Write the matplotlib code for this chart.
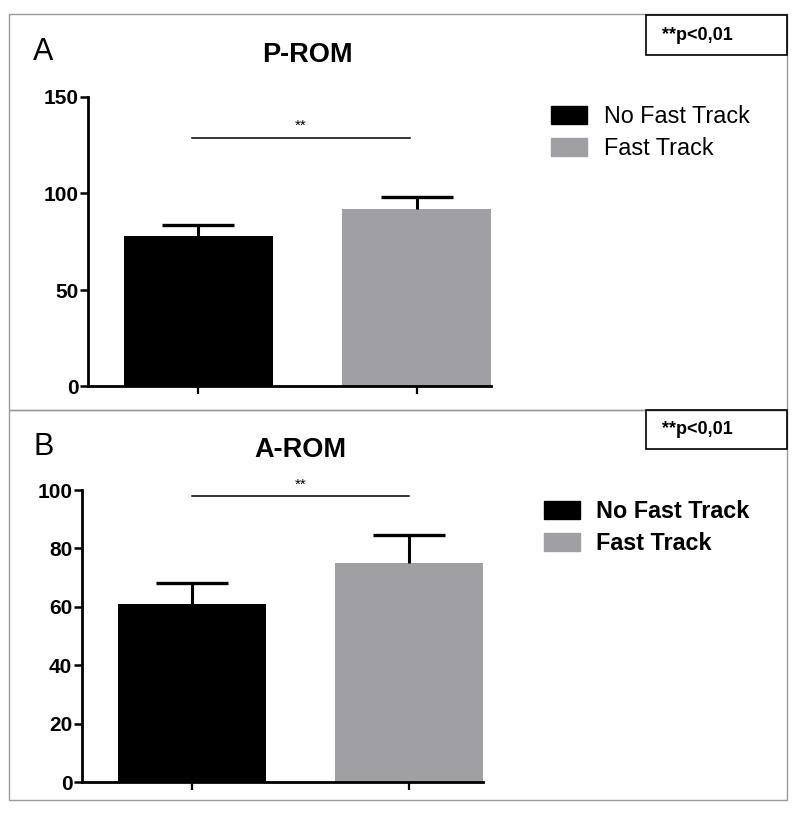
import matplotlib
matplotlib.use("Agg")
import matplotlib.pyplot as plt
from matplotlib.patches import Rectangle

plt.rcParams['font.family'] = ['Liberation Sans', 'DejaVu Sans']

groups = ["No Fast Track", "Fast Track"]
colors = ["#000000", "#a09fa4"]

prom_mean = [78, 92]
prom_sd = [5.7, 6.2]
prom_ticks = [0, 50, 100, 150]

arom_mean = [61, 75]
arom_sd = [7.2, 9.6]
arom_ticks = [0, 20, 40, 60, 80, 100]

W, H = 799, 813
fig = plt.figure(figsize=(W / 100, H / 100), dpi=100)


def fx(px):
    return px / W


def fy(py):
    return 1 - py / H


def panel(rect, means, sds, ticks, ymax, sig, title, letter, letter_xy, title_xy,
          legend_xy, legend_bold, box_y, sig_x):
    ax = fig.add_axes(rect)
    x = [0, 1]
    ax.bar(x, means, width=0.68, color=colors, zorder=2)
    for i in range(2):
        _, caps, _ = ax.errorbar(x[i], means[i], yerr=[[0], [sds[i]]], fmt="none",
                                 ecolor="black", elinewidth=2.2, capsize=26,
                                 capthick=2.4, zorder=3)
        caps[0].set_visible(False)  # only upper cap
    ax.set_ylim(0, ymax)
    ax.set_xlim(-0.505, 1.34)
    ax.set_yticks(ticks)
    ax.set_xticks(x)
    ax.set_xticklabels([])
    for s in ["top", "right"]:
        ax.spines[s].set_visible(False)
    for s in ["left", "bottom"]:
        ax.spines[s].set_linewidth(2)
    ax.tick_params(axis="y", length=6, width=1.8, labelsize=15, pad=1)
    ax.tick_params(axis="x", length=6, width=1.6)
    for lab in ax.get_yticklabels():
        lab.set_fontweight("bold")
    ax.patch.set_alpha(0)

    # significance bar
    ax.plot(sig_x, [sig, sig], color="black", lw=1.1, clip_on=False)
    ax.text(sum(sig_x) / 2, sig + 1.5 * ymax / 100, "**", ha="center", va="bottom",
            fontsize=11, clip_on=False)

    fig.text(fx(title_xy[0]), fy(title_xy[1]), title, ha="center", va="baseline",
             fontsize=19.5, fontweight="bold")
    fig.text(fx(letter_xy[0]), fy(letter_xy[1]), letter, ha="left", va="baseline",
             fontsize=22)

    handles = [Rectangle((0, 0), 1, 1, color=c) for c in colors]
    fig.legend(handles, groups, loc="upper left",
               bbox_to_anchor=(fx(legend_xy[0]), fy(legend_xy[1])),
               frameon=False, borderpad=0, borderaxespad=0,
               handlelength=1.55, handleheight=0.8, handletextpad=0.7,
               labelspacing=0.38,
               prop={"size": 16.8, "weight": "bold" if legend_bold else "normal"})

    # p-value box
    fig.add_artist(Rectangle((fx(646), fy(box_y[1])), fx(787) - fx(646),
                             fy(box_y[0]) - fy(box_y[1]), transform=fig.transFigure,
                             fill=False, edgecolor="black", lw=1.2))
    fig.text(fx(662), fy((box_y[0] + box_y[1]) / 2), "**p<0,01", ha="left",
             va="center", fontsize=13, fontweight="bold")
    return ax


# outer panel frames
for top, bot in [(14, 410), (410, 800)]:
    fig.add_artist(Rectangle((fx(9), fy(bot)), fx(787) - fx(9), fy(top) - fy(bot),
                             transform=fig.transFigure, fill=False,
                             edgecolor="#9a9a9a", lw=1))

panel([fx(88), fy(386.5), fx(491) - fx(88), fy(97) - fy(386.5)],
      prom_mean, prom_sd, prom_ticks, 150, 129, "P-ROM", "A",
      (33, 60), (307, 62), (551, 105), False, (15, 55), [-0.03, 0.97])

panel([fx(82), fy(782), fx(483) - fx(82), fy(490) - fy(782)],
      arom_mean, arom_sd, arom_ticks, 100, 98, "A-ROM", "B",
      (33, 455), (300, 457), (544, 500), True, (410, 449), [0.0, 1.0])

fig.savefig("out.png", dpi=100)
